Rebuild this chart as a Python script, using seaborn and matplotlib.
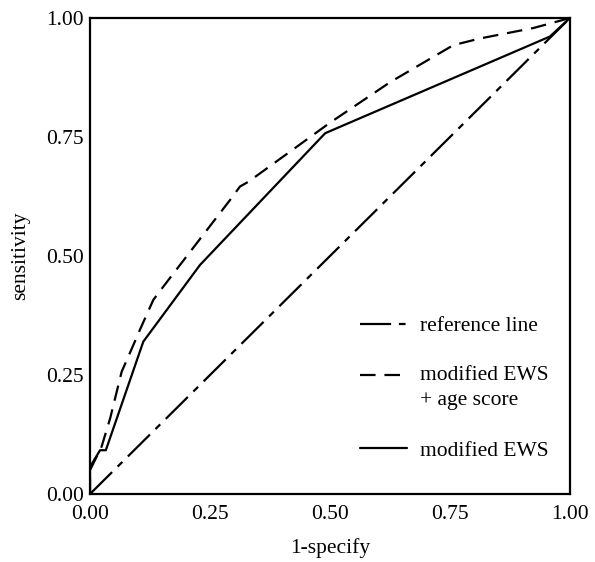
import numpy as np
import pandas as pd
import matplotlib
matplotlib.use("Agg")
import matplotlib.pyplot as plt
import seaborn as sns
from matplotlib.legend_handler import HandlerLine2D

# values
ref_x = [0.0, 1.0]
ref_y = [0.0, 1.0]

age_x = [0.0, 0.0, 0.024, 0.042, 0.066, 0.083, 0.104, 0.132, 0.153, 0.292,
         0.3125, 0.33, 0.5, 0.625, 0.757, 0.8125, 0.924, 1.0]
age_y = [0.0, 0.05, 0.099, 0.159, 0.257, 0.296, 0.345, 0.408, 0.436, 0.618,
         0.646, 0.656, 0.78, 0.865, 0.943, 0.957, 0.979, 1.0]

ews_x = [0.0, 0.0, 0.021, 0.033, 0.111, 0.229, 0.49, 0.958, 1.0]
ews_y = [0.0, 0.057, 0.092, 0.092, 0.32, 0.481, 0.758, 0.961, 1.0]

ticks = [0.0, 0.25, 0.5, 0.75, 1.0]
tick_labels = ["0.00", "0.25", "0.50", "0.75", "1.00"]

sns.set_theme(style="white")
plt.rcParams["font.family"] = ["Liberation Serif", "DejaVu Serif"]
plt.rcParams["text.color"] = "black"
plt.rcParams["axes.labelcolor"] = "black"
FS = 15.5

fig = plt.figure(figsize=(5.95, 5.62), dpi=100)
ax = fig.add_axes([90 / 595, 68 / 562, 480 / 595, 476 / 562])

lw = 1.6
sns.lineplot(x=ref_x, y=ref_y, ax=ax, color="black", lw=lw, sort=False,
             estimator=None, linestyle=(0, (14, 3.5, 3, 3.5)), label="reference line")
sns.lineplot(x=age_x, y=age_y, ax=ax, color="black", lw=lw, sort=False,
             estimator=None, linestyle=(0, (7, 4)), label="modified EWS\n+ age score")
sns.lineplot(x=ews_x, y=ews_y, ax=ax, color="black", lw=lw, sort=False,
             estimator=None, label="modified EWS")

ax.set_xlim(0, 1)
ax.set_ylim(0, 1)
ax.set_xticks(ticks)
ax.set_xticklabels(tick_labels)
ax.set_yticks(ticks)
ax.set_yticklabels(tick_labels)
ax.tick_params(axis="both", direction="out", length=4, width=3.5,
               colors="black", labelsize=FS)
ax.tick_params(axis="x", pad=4)
ax.tick_params(axis="y", pad=1.5, length=3)

for s in ax.spines.values():
    s.set_visible(True)
    s.set_color("black")
    s.set_linewidth(1.6)

ax.set_xlabel("1-specify", fontsize=FS, labelpad=10)
ax.set_ylabel("sensitivity", fontsize=FS, labelpad=11)


class FirstLineHandler(HandlerLine2D):
    # put the handle level with the first line of a two-line label
    def create_artists(self, legend, orig_handle, xdescent, ydescent,
                       width, height, fontsize, trans):
        arts = super().create_artists(legend, orig_handle, xdescent, ydescent,
                                      width, height, fontsize, trans)
        for a in arts:
            a.set_ydata(np.asarray(a.get_ydata()) + 0.6 * fontsize)
        return arts


handles, labels = ax.get_legend_handles_labels()
hmap = {handles[1]: FirstLineHandler()}
leg = ax.legend(handles, labels, handler_map=hmap, loc="upper left",
                bbox_to_anchor=(0.5625, 0.374), frameon=False, fontsize=FS,
                borderpad=0, borderaxespad=0, handlelength=2.2,
                handletextpad=0.6, labelspacing=1.4)
for t in leg.get_texts():
    t.set_color("black")
    t.set_linespacing(1.45)

fig.savefig("out.png", dpi=100)
